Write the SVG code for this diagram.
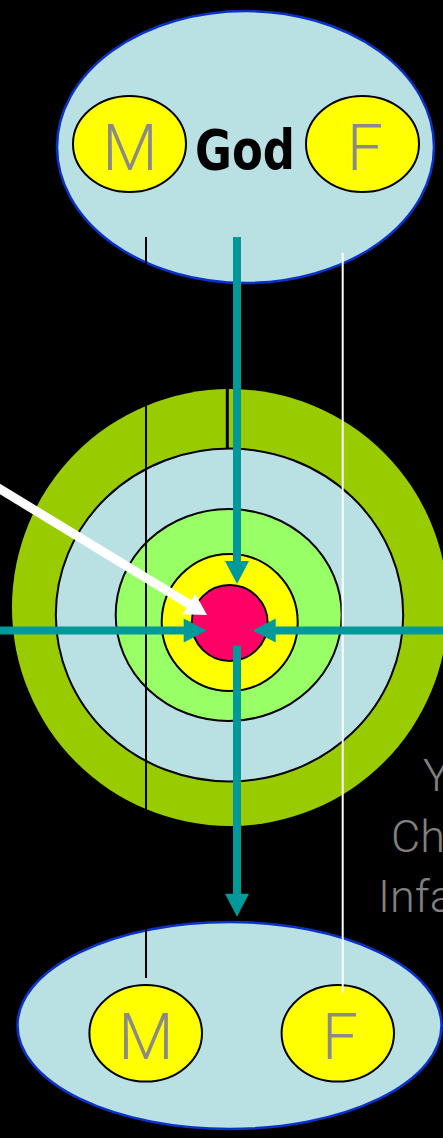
<svg xmlns="http://www.w3.org/2000/svg" width="443" height="1138" viewBox="0 0 443 1138">
<style>
.bigell{fill:#b9e0e3;stroke:#0a32c8;stroke-width:2.5}
.person{fill:#ffff00;stroke:#000;stroke-width:2}
.letter{font-family:Roboto,"Liberation Sans",sans-serif;font-weight:300;font-size:64px;fill:#8a8a8a;text-anchor:middle}
.age{font-family:Roboto,"Liberation Sans",sans-serif;font-weight:300;font-size:45px;fill:#808080}
.ring{stroke:#000;stroke-width:2}
.teal{stroke:#009999;stroke-width:8;fill:none}
</style>
<defs>
<marker id="ah" markerUnits="userSpaceOnUse" markerWidth="23" markerHeight="24" refX="3" refY="12" orient="auto" overflow="visible">
<path d="M0,0 L23,12 L0,24 z" fill="#009999"/>
</marker>
<marker id="wh" markerUnits="userSpaceOnUse" markerWidth="21" markerHeight="24" refX="3" refY="12" orient="auto" overflow="visible">
<path d="M0,0 L21,12 L0,24 z" fill="#ffffff"/>
</marker>
</defs>
<rect x="0" y="0" width="443" height="1138" fill="#000"/>
<g id="god">
<ellipse class="bigell" cx="245.5" cy="147" rx="188.5" ry="136"/>
<ellipse class="person" cx="129.5" cy="144" rx="56.5" ry="48"/>
<ellipse class="person" cx="362.5" cy="144" rx="56.5" ry="48"/>
<text class="letter" x="130" y="170">M</text>
<text class="letter" x="365" y="170">F</text>
<text x="195" y="169" font-family="'DejaVu Sans',Verdana,sans-serif" font-weight="bold" font-size="55" textLength="100" lengthAdjust="spacingAndGlyphs" fill="#000">God</text>
</g>
<g id="target">
<ellipse cx="230" cy="607.5" rx="218" ry="218.5" fill="#99cc00"/>
<ellipse class="ring" cx="229.5" cy="615" rx="173.7" ry="166.5" fill="#b9e0e3"/>
<ellipse class="ring" cx="228.7" cy="615" rx="113" ry="106" fill="#99ff66"/>
<ellipse class="ring" cx="229.7" cy="622.5" rx="68" ry="68.5" fill="#ffff00"/>
<ellipse class="ring" cx="229.7" cy="623" rx="38" ry="38" fill="#ff0066"/>
<line x1="227.3" y1="380" x2="227.3" y2="449" stroke="#000" stroke-width="3"/>
</g>
<g id="parents">
<ellipse class="bigell" cx="229.5" cy="1025.5" rx="212" ry="103.5"/>
<ellipse class="person" cx="145.7" cy="1033.3" rx="56.3" ry="48.3"/>
<ellipse class="person" cx="337.8" cy="1033.3" rx="56.2" ry="48.3"/>
<text class="letter" x="146" y="1059">M</text>
<text class="letter" x="340" y="1059">F</text>
</g>
<g id="ages">
<text class="age" x="423" y="791">Y</text>
<text class="age" x="391" y="852">Ch</text>
<text class="age" x="378" y="912">Infa</text>
</g>
<g id="connectors">
<line x1="146" y1="237" x2="146" y2="978" stroke="#000" stroke-width="2"/>
<line x1="342.7" y1="253" x2="342.7" y2="993" stroke="#fff" stroke-width="2"/>
<line x1="-5" y1="486" x2="191.6" y2="605.6" stroke="#fff" stroke-width="9" marker-end="url(#wh)"/>
<line class="teal" x1="237" y1="237" x2="237" y2="564" marker-end="url(#ah)"/>
<line class="teal" x1="-2" y1="630.5" x2="186.7" y2="630.5" marker-end="url(#ah)"/>
<line class="teal" x1="445" y1="630.5" x2="272.7" y2="630.5" marker-end="url(#ah)"/>
<line class="teal" x1="237" y1="645.7" x2="237" y2="896.7" marker-end="url(#ah)"/>
</g>
</svg>
